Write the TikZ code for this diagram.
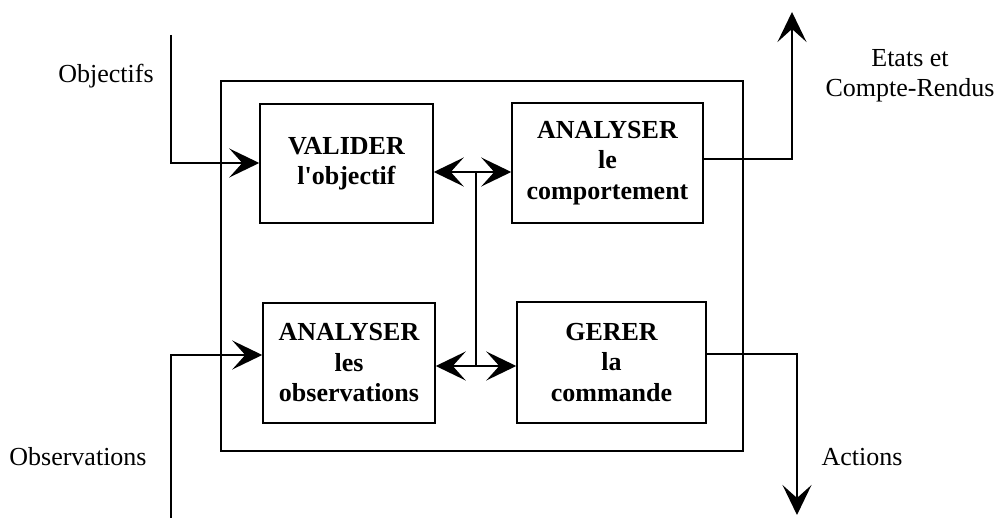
\documentclass[tikz,border=0pt]{standalone}
\usepackage{fontspec}
\setmainfont{Liberation Serif}
\usetikzlibrary{arrows.meta}
\begin{document}
\begin{tikzpicture}[x=1pt,y=-1pt,
  line width=1.5pt,
  tip/.style={-{Stealth[length=30pt,width=29pt,inset=13pt]}},
  func/.style={draw,line width=1.5pt,align=center,inner sep=0pt,
    font=\fontsize{26}{30.5}\selectfont\bfseries},
  lbl/.style={align=center,inner sep=0pt,font=\fontsize{26}{30}\selectfont}]
\useasboundingbox (0,0) rectangle (1002,518);
% outer frame
\node[draw,line width=1.5pt,minimum width=522pt,minimum height=370pt,inner sep=0pt] (frame) at (482,266) {};
% function boxes
\node[func,minimum width=173pt,minimum height=119pt] (valider) at (346.5,163.5) {VALIDER\\l\textquotesingle objectif};
\node[func,minimum width=191pt,minimum height=120pt] (comp) at (607.5,163) {ANALYSER\\le\\comportement};
\node[func,minimum width=172pt,minimum height=120pt] (obs) at (349,363) {ANALYSER\\les\\observations};
\node[func,minimum width=189pt,minimum height=121pt] (gerer) at (611.5,362.5) {GERER\\la\\commande};
% labels
\node[lbl] (lobj) at (106,76) {Objectifs};
\node[lbl] (lobs) at (78,457) {Observations};
\node[lbl] (lact) at (862,457) {Actions};
\node[lbl] (letat) at (910,76) {Etats et\\Compte-Rendus};
% coordinates
\coordinate (inA) at (171,35);
\coordinate (inAc) at (171,163);
\coordinate (inB) at (171,518);
\coordinate (inBc) at (171,355);
\coordinate (j1) at (476,172);
\coordinate (j2) at (476,366);
\coordinate (outA) at (792,159);
\coordinate (outAend) at (792,12);
\coordinate (outB) at (797,354);
\coordinate (outBend) at (797,515);
% inputs
\draw[tip] (inA) -- (inAc) -- (valider.west |- inAc);
\draw[tip] (inB) -- (inBc) -- (obs.west |- inBc);
% internal links
\draw (j1) -- (j2);
\draw[tip] (j1) -- (valider.east |- j1);
\draw[tip] (j1) -- (comp.west |- j1);
\draw[tip] (j2) -- (obs.east |- j2);
\draw[tip] (j2) -- (gerer.west |- j2);
% outputs
\draw[tip] (comp.east |- outA) -- (outA) -- (outAend);
\draw[tip] (gerer.east |- outB) -- (outB) -- (outBend);
\end{tikzpicture}
\end{document}
